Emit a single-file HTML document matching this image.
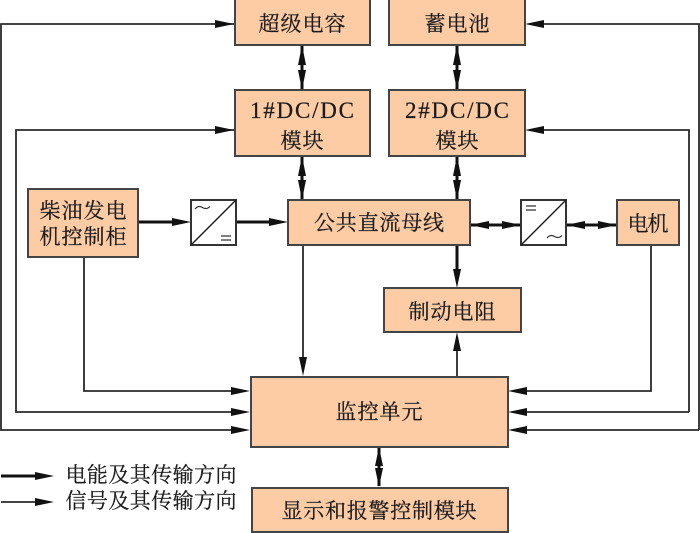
<!DOCTYPE html>
<html><head><meta charset="utf-8"><style>
html,body{margin:0;padding:0;background:#fff}
svg{display:block}
text{font-family:"Liberation Serif","Noto Serif CJK SC",serif;font-size:21px;fill:#1c1c1c;stroke:#1c1c1c;stroke-width:.25;text-anchor:middle}
text.l{font-size:23px}
.b{fill:#fdcba4;stroke:#444;stroke-width:2}
.c{fill:#fff;stroke:#333;stroke-width:2}
.t{fill:none;stroke:#2a2a2a;stroke-width:1.8}
.k{fill:none;stroke:#111;stroke-width:3}
.a{fill:#111}
</style></head><body>
<svg width="700" height="533" viewBox="0 0 700 533" xmlns="http://www.w3.org/2000/svg">
<!-- thin signal lines -->
<path class="t" d="M234 24H1V430H232M234 130H16V412H232M84 257V391H232M303 245V358M457 376V350M651 245V391H526M689 412H526M689 412V130H543M699 430H526M699 430V24H543"/>
<path class="t" d="M1 502H36"/>
<!-- thick power lines -->
<path class="k" d="M302 46V89M302 157V199M457 46V89M457 157V199M138 222H175M236 222H272M471 225H520M567 225H616M457 245V272M379 448V486M1 476H36"/>
<!-- arrowheads -->
<g class="a">
<path d="M234 24l-19-4v8zM234 130l-19-4v8zM250 391l-19-4v8zM250 412l-19-4v8zM250 430l-19-4v8z"/>
<path d="M525 24l19-4v8zM525 130l19-4v8zM508 391l19-4v8zM508 412l19-4v8zM508 430l19-4v8z"/>
<path d="M303 376l-4-19h8zM457 332l-4 19h8zM457 288l-4-19h8z"/>
<path d="M302 45l-4 20h8zM302 90l-4-20h8zM302 156l-4 20h8zM302 200l-4-20h8z"/>
<path d="M457 45l-4 20h8zM457 90l-4-20h8zM457 156l-4 20h8zM457 200l-4-20h8z"/>
<path d="M191 222l-19-4v8zM288 222l-19-4v8z"/>
<path d="M470 225l19-4v8zM521 225l-19-4v8zM566 225l19-4v8zM617 225l-19-4v8z"/>
<path d="M379 447l-4 19h8zM379 487l-4-19h8z"/>
<path d="M54 476l-19-4v8zM54 502l-19-4v8z"/>
</g>
<!-- boxes -->
<rect class="b" x="235" y="-2" width="135" height="47"/>
<rect class="b" x="389" y="-2" width="136" height="47"/>
<rect class="b" x="235" y="90" width="135" height="66"/>
<rect class="b" x="389" y="90" width="136" height="66"/>
<rect class="b" x="28" y="189" width="110" height="68"/>
<rect class="b" x="288" y="200" width="182" height="45"/>
<rect class="b" x="617" y="200" width="62" height="45"/>
<rect class="b" x="384" y="288" width="137" height="44"/>
<rect class="b" x="251" y="377" width="257" height="70"/>
<rect class="b" x="252" y="488" width="256" height="44"/>
<!-- converters -->
<rect class="c" x="191" y="200" width="45" height="45"/>
<path d="M191 245L236 200" stroke="#222" stroke-width="1.500" fill="none"/>
<path d="M195 209q3.500-4 7.500-1.500t7.500-1" stroke="#333" stroke-width="1.200" fill="none"/>
<path d="M221 236h10M221 240h10" stroke="#333" stroke-width="1.200"/>
<rect class="c" x="521" y="200" width="45" height="45"/>
<path d="M521 245L566 200" stroke="#222" stroke-width="1.500" fill="none"/>
<path d="M526 206h10M526 210h10" stroke="#333" stroke-width="1.200"/>
<path d="M547 238q3.500-4 7.500-1.500t7.500-1" stroke="#333" stroke-width="1.200" fill="none"/>
<!-- labels -->
<text x="302" y="31" textLength="87">超级电容</text>
<text x="457" y="31" textLength="65">蓄电池</text>
<text class="l" x="302" y="118" textLength="104">1#DC/DC</text>
<text x="302" y="148" textLength="43">模块</text>
<text class="l" x="457" y="118" textLength="104">2#DC/DC</text>
<text x="457" y="148" textLength="43">模块</text>
<text x="83" y="218" textLength="87">柴油发电</text>
<text x="83" y="244" textLength="87">机控制柜</text>
<text x="379" y="230" textLength="130">公共直流母线</text>
<text x="648" y="231" textLength="41">电机</text>
<text x="452" y="319" textLength="87">制动电阻</text>
<text x="379" y="419" textLength="87">监控单元</text>
<text x="379" y="518" textLength="195">显示和报警控制模块</text>
<text x="151" y="482" textLength="171">电能及其传输方向</text>
<text x="151" y="508" textLength="171">信号及其传输方向</text>
</svg>
</body></html>
